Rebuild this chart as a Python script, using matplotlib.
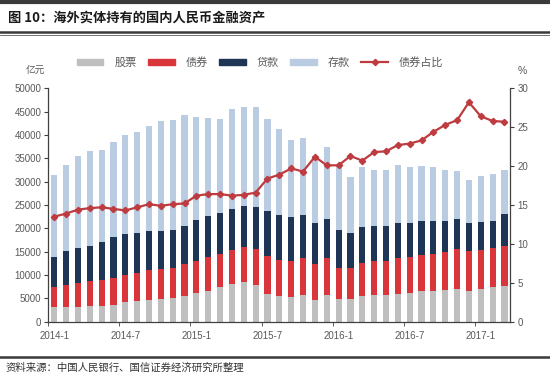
import numpy as np
import matplotlib
matplotlib.use("Agg")
import matplotlib.pyplot as plt
from matplotlib.lines import Line2D

plt.rcParams['font.family'] = ['Liberation Sans', 'Noto Sans CJK SC', 'DejaVu Sans']

# monthly categories 2014-1 .. 2017-3
months = [f"{y}-{m}" for y in (2014, 2015, 2016, 2017) for m in range(1, 13)][:39]
tick_labels = ["2014-1", "2014-7", "2015-1", "2015-7", "2016-1", "2016-7", "2017-1"]

# 亿元
stocks = [3200, 3200, 3200, 3400, 3400, 3600, 4300, 4400, 4600, 4800,
          5100, 5500, 6100, 6600, 7400, 8000, 8400, 7900, 5900, 5400,
          5200, 5800, 4600, 5800, 4900, 4900, 5600, 5700, 5700, 5900,
          6200, 6600, 6600, 6800, 7100, 6600, 6900, 7400, 7600]
bonds = [4200, 4700, 5000, 5300, 5500, 5700, 5700, 6100, 6500, 6400,
         6500, 6900, 7000, 7300, 7200, 7400, 7700, 7700, 8200, 7900,
         7700, 7800, 7800, 7800, 6700, 6700, 6900, 7200, 7200, 7800,
         7700, 7700, 8000, 8200, 8400, 8500, 8500, 8300, 8600]
loans = [6500, 7300, 7500, 7600, 8100, 8800, 8800, 8500, 8400, 8300,
         8000, 8000, 8700, 8700, 8600, 8700, 8700, 9000, 9700, 9600,
         9500, 9300, 8800, 8300, 8000, 7500, 7700, 7600, 7600, 7400,
         7200, 7300, 7000, 6600, 6400, 6000, 5900, 5900, 6900]
deposits = [17500, 18400, 19900, 20300, 19700, 20500, 21100, 21700, 22400, 23400,
            23700, 23800, 22000, 21000, 20200, 21400, 21100, 21300, 19600, 18300,
            16500, 16400, 14300, 15500, 13700, 12000, 12900, 12000, 12100, 12500,
            12000, 11800, 11500, 10900, 10400, 9300, 9900, 10000, 9300]
# 债券占比, %
bond_share = [13.5, 13.9, 14.4, 14.6, 14.7, 14.5, 14.3, 14.7, 15.1, 14.9,
              15.1, 15.2, 16.2, 16.4, 16.4, 16.2, 16.3, 16.6, 18.4, 18.9,
              19.7, 19.3, 21.2, 20.1, 20.1, 21.3, 20.7, 21.8, 21.9, 22.7,
              22.9, 23.3, 24.4, 25.3, 25.9, 28.2, 26.4, 25.8, 25.7]

c_stock = "#BFBFBF"
c_bond = "#D9363B"
c_loan = "#1F3556"
c_dep = "#B9CCE2"
c_line = "#BE3B40"
txt = "#595959"

fig = plt.figure(figsize=(5.5, 3.77), dpi=100)
ax = fig.add_axes([0.0878, 0.1467, 0.8402, 0.6191])
ax2 = ax.twinx()

x = np.arange(len(months))
w = 0.52
s = np.array(stocks)
b = np.array(bonds)
l = np.array(loans)
d = np.array(deposits)
ax.bar(x, s, w, color=c_stock, label="股票", zorder=2)
ax.bar(x, b, w, bottom=s, color=c_bond, label="债券", zorder=2)
ax.bar(x, l, w, bottom=s + b, color=c_loan, label="贷款", zorder=2)
ax.bar(x, d, w, bottom=s + b + l, color=c_dep, label="存款", zorder=2)
ax2.plot(x, bond_share, color=c_line, lw=1.6, marker="D", ms=3.2,
         markerfacecolor=c_line, markeredgecolor=c_line, label="债券占比")

ax.set_xlim(-0.5, len(months) - 0.5)
ax.set_ylim(0, 50000)
ax.set_yticks(np.arange(0, 50001, 5000))
ax2.set_ylim(0, 30)
ax2.set_yticks(np.arange(0, 31, 5))

pos = [months.index(t) for t in tick_labels]
ax.set_xticks(pos)
ax.set_xticklabels(tick_labels)
ax.set_xticks(np.arange(-0.5, len(months), 6), minor=True)
ax.tick_params(axis="x", which="major", length=0, pad=7, labelsize=7, colors=txt)
ax.tick_params(axis="x", which="minor", length=3, direction="out", color="#404040")
ax.tick_params(axis="y", length=3, labelsize=7, colors=txt, color="#404040", pad=2)
ax2.tick_params(axis="y", length=3, labelsize=7, colors=txt, color="#404040", pad=2)

for a in (ax, ax2):
    a.spines["top"].set_visible(False)
    for k in ("left", "right", "bottom"):
        a.spines[k].set_color("#404040")
        a.spines[k].set_linewidth(0.9)
ax.spines["right"].set_visible(False)
ax2.spines["left"].set_visible(False)
ax2.spines["bottom"].set_visible(False)

fig.text(0.046, 0.805, "亿元", fontsize=7, color=txt, family=['Noto Sans CJK SC'])
fig.text(0.942, 0.803, "%", fontsize=7.5, color=txt)

handles = [plt.Rectangle((0, 0), 1, 1, color=c) for c in (c_stock, c_bond, c_loan, c_dep)]
handles.append(Line2D([], [], color=c_line, lw=1.6, marker="D", ms=3.2))
fig.legend(handles, ["股票", "债券", "贷款", "存款", "债券占比"], ncol=5,
           loc="center", bbox_to_anchor=(0.473, 0.835), frameon=False,
           handlelength=2.4, handleheight=0.5, handletextpad=1.0,
           columnspacing=1.0, labelcolor=txt, prop={'family': ['Noto Sans CJK SC'], 'size': 8})

# title and source bars
fig.add_artist(Line2D([0, 1], [0.996, 0.996], color="#3A3A3A", lw=3, transform=fig.transFigure))
fig.add_artist(Line2D([0, 1], [0.915, 0.915], color="#3A3A3A", lw=1.8, transform=fig.transFigure))
fig.add_artist(Line2D([0, 1], [0.907, 0.907], color="#3A3A3A", lw=0.5, transform=fig.transFigure))
fig.text(0.015, 0.955, "图 10：海外实体持有的国内人民币金融资产", fontsize=9.5, fontweight="bold",
         va="center", color="#1A1A1A", family=['Noto Sans CJK SC'])
fig.add_artist(Line2D([0, 1], [0.052, 0.052], color="#3A3A3A", lw=1.8, transform=fig.transFigure))
fig.text(0.01, 0.025, "资料来源：中国人民银行、国信证券经济研究所整理", fontsize=7.5,
         va="center", color="#333333", family=['Noto Sans CJK SC'])

fig.savefig("out.png", dpi=100)
